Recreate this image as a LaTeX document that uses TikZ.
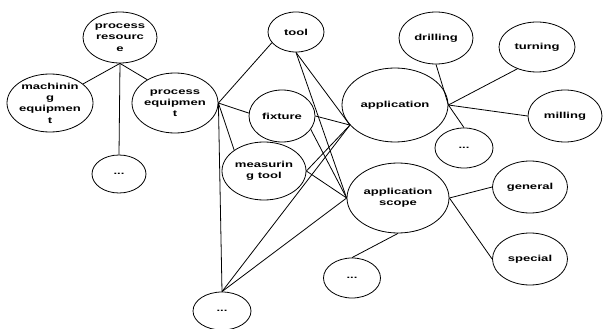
\documentclass[tikz,border=0pt]{standalone}
\usepackage{fontspec}
\setmainfont[FakeStretch=1.5]{Liberation Sans}
\usetikzlibrary{shapes.geometric}

\tikzset{
  ell/.style={draw, ellipse, inner sep=0pt, line width=0.8pt},
  txt/.style={font=\bfseries\fontsize{8.7}{11.3}\selectfont, align=center, inner sep=0pt},
  link/.style={line width=0.8pt},
}

\begin{document}
\begin{tikzpicture}[x=1pt, y=-1pt]
\useasboundingbox (0,0) rectangle (603,329);

% process resource branch
\node[ell, minimum width=74, minimum height=51, label={[txt]center:process\\resourc\\e}] (pr) at (120,37.5) {};
\node[ell, minimum width=86, minimum height=58, label={[txt]center:machinin\\g\\equipmen\\t}] (me) at (50,103) {};
\node[ell, minimum width=86, minimum height=60, label={[txt]center:process\\equipmen\\t}] (pe) at (175,103) {};
\node[ell, minimum width=54, minimum height=38, label={[txt]center:...}] (d1) at (119,174) {};

% equipment kinds
\node[ell, minimum width=56, minimum height=40, label={[txt]center:tool}] (tool) at (296,32) {};
\node[ell, minimum width=66, minimum height=52, label={[txt]center:fixture}] (fix) at (282,116) {};
\node[ell, minimum width=84, minimum height=58, label={[txt]center:measurin\\g tool}] (mt) at (264,171) {};
\node[ell, minimum width=58, minimum height=38, label={[txt]center:...}] (d2) at (222,311) {};

% application and scope
\node[ell, minimum width=106, minimum height=74, label={[txt]center:application}] (app) at (395,105) {};
\node[ell, minimum width=102, minimum height=70, label={[txt]center:application\\scope}] (scope) at (398,198) {};
\node[ell, minimum width=57, minimum height=40, label={[txt]center:...}] (d3) at (352,278) {};

\node[ell, minimum width=74, minimum height=52, label={[txt]center:drilling}] (drill) at (436,38) {};
\node[ell, minimum width=76, minimum height=50, label={[txt]center:turning}] (turn) at (537,47) {};
\node[ell, minimum width=74, minimum height=52, label={[txt]center:milling}] (mill) at (565,116) {};
\node[ell, minimum width=58, minimum height=40, label={[txt]center:...}] (d4) at (464,148) {};

\node[ell, minimum width=75, minimum height=52, label={[txt]center:general}] (gen) at (530,187) {};
\node[ell, minimum width=75, minimum height=52, label={[txt]center:special}] (spec) at (530,259) {};

% connectors
\draw[link] (pr.south) -- (me.30);
\draw[link] (pr.south) -- (d1.north);
\draw[link] (pr.south) -- (pe.140);

\draw[link] (pe.east) -- (tool.204);
\draw[link] (pe.east) -- (fix.175);
\draw[link] (pe.east) -- (mt.145);
\draw[link] (pe.east) -- (d2.north);

\draw[link] (tool.south) -- (app.204);
\draw[link] (tool.south) -- (scope.west);
\draw[link] (fix.east) -- (app.204);
\draw[link] (fix.-25) -- (scope.west);
\draw[link] (mt.east) -- (app.204);
\draw[link] (mt.east) -- (scope.west);
\draw[link] (d2.north) -- (app.204);
\draw[link] (d2.north) -- (scope.west);

\draw[link] (app.east) -- (drill.south);
\draw[link] (app.east) -- (turn.228);
\draw[link] (app.east) -- (mill.west);
\draw[link] (app.east) -- (d4.north);

\draw[link] (scope.east) -- (gen.west);
\draw[link] (scope.east) -- (spec.west);
\draw[link] (scope.south) -- (d3.north);
\end{tikzpicture}
\end{document}
